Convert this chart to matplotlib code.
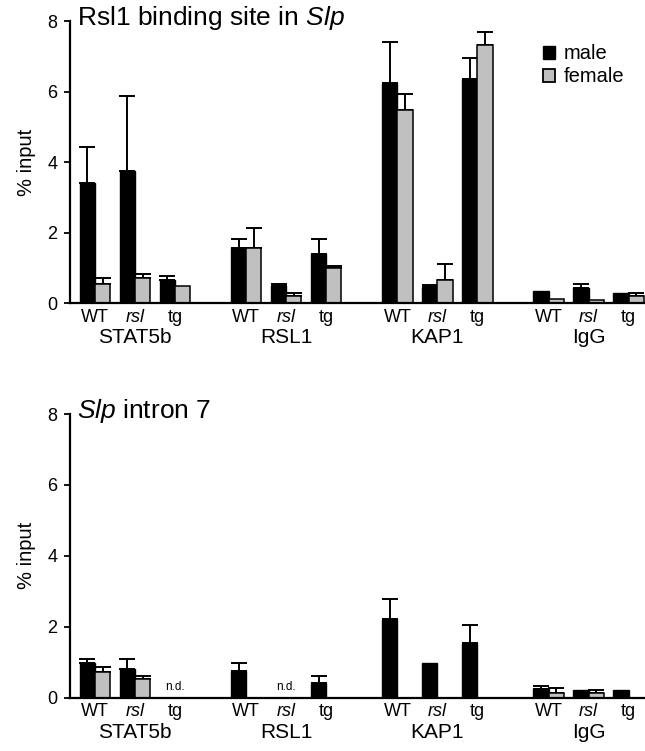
import matplotlib
matplotlib.use("Agg")
import matplotlib.pyplot as plt
from matplotlib.patches import Patch
import numpy as np

plt.rcParams['font.family'] = ['Liberation Sans', 'DejaVu Sans']
plt.rcParams['mathtext.fontset'] = 'custom'
plt.rcParams['mathtext.rm'] = 'Liberation Sans'
plt.rcParams['mathtext.it'] = 'Liberation Sans:italic'

groups = ["STAT5b", "RSL1", "KAP1", "IgG"]
genotypes = ["WT", "rsl", "tg"]

# Top panel: Rsl1 binding site in Slp
top_male = [3.41, 3.75, 0.65, 1.57, 0.49, 1.39, 6.23, 0.45, 6.35, 0.35, 0.43, 0.29]
top_male_err = [1.02, 2.12, 0.11, 0.24, 0.05, 0.42, 1.18, 0.06, 0.61, 0.0, 0.10, 0.0]
top_female = [0.54, 0.72, 0.48, 1.57, 0.20, 0.98, 5.48, 0.65, 7.32, 0.12, 0.10, 0.21]
top_female_err = [0.16, 0.10, 0.0, 0.55, 0.09, 0.07, 0.44, 0.45, 0.38, 0.0, 0.0, 0.08]

# Bottom panel: Slp intron 7 (None = not determined)
bot_male = [0.97, 0.80, None, 0.75, None, 0.41, 2.22, 0.99, 1.55, 0.24, 0.22, 0.21]
bot_male_err = [0.11, 0.28, 0.0, 0.22, 0.0, 0.20, 0.57, 0.0, 0.50, 0.10, 0.0, 0.0]
bot_female = [0.73, 0.52, None, 0.0, None, 0.0, 0.0, 0.0, 0.0, 0.12, 0.12, 0.0]
bot_female_err = [0.13, 0.09, 0.0, 0.0, 0.0, 0.0, 0.0, 0.0, 0.0, 0.16, 0.10, 0.0]

yticks = [0, 2, 4, 6, 8]

fig = plt.figure(figsize=(6.45, 7.51), dpi=100)
ax1 = fig.add_axes([0.1085, 0.5965, 0.8915, 0.3755])
ax2 = fig.add_axes([0.1085, 0.0710, 0.8915, 0.3777])

group_step = 3.78
w = 0.38
xs = np.array([g * group_step + i for g in range(len(groups)) for i in range(len(genotypes))])


def draw(ax, male, male_err, female, female_err, title):
    m = np.array([np.nan if v is None else v for v in male], dtype=float)
    f = np.array([np.nan if v is None else v for v in female], dtype=float)
    ax.bar(xs - w / 2, np.nan_to_num(m), w, color='black', edgecolor='black', linewidth=1.0, zorder=2)
    ax.bar(xs + w / 2, np.nan_to_num(f), w, color='#c0c0c0', edgecolor='black', linewidth=1.1, zorder=2)
    for x, v, e in zip(xs - w / 2, m, male_err):
        if not np.isnan(v) and e > 0:
            ax.errorbar(x, v, yerr=[[0], [e]], fmt='none', ecolor='black', elinewidth=1.4,
                        capsize=5.5, capthick=1.4, zorder=1)
    for x, v, e in zip(xs + w / 2, f, female_err):
        if not np.isnan(v) and e > 0:
            ax.errorbar(x, v, yerr=[[0], [e]], fmt='none', ecolor='black', elinewidth=1.4,
                        capsize=5.5, capthick=1.4, zorder=1)
    for x, v in zip(xs, m):
        if np.isnan(v):
            ax.text(x, 0.12, "n.d.", ha='center', va='bottom', fontsize=8.5)
    ax.set_xlim(-0.625, 13.75)
    ax.set_ylim(0, 8)
    ax.set_yticks(yticks)
    ax.set_yticklabels([str(t) for t in yticks], fontsize=13)
    ax.set_xticks(xs)
    ax.set_xticklabels(genotypes * len(groups), fontsize=13)
    for lab in ax.get_xticklabels():
        if lab.get_text() == "rsl":
            lab.set_fontstyle('italic')
    ax.tick_params(axis='x', length=0, pad=4)
    ax.tick_params(axis='y', length=4, width=1.3, direction='out', pad=5)
    for s in ['top', 'right']:
        ax.spines[s].set_visible(False)
    for s in ['left', 'bottom']:
        ax.spines[s].set_linewidth(1.6)
    ax.set_ylabel("% input", fontsize=14.5, labelpad=8)
    for g, name in enumerate(groups):
        ax.text(g * group_step + 1, -0.123, name, transform=ax.get_xaxis_transform(),
                ha='center', va='center', fontsize=15)
    ax.text(0.013, 1.01, title, transform=ax.transAxes, ha='left', va='center', fontsize=19)


draw(ax1, top_male, top_male_err, top_female, top_female_err, r"Rsl1 binding site in $\mathit{Slp}$")
draw(ax2, bot_male, bot_male_err, bot_female, bot_female_err, r"$\mathit{Slp}$ intron 7")

handles = [Patch(facecolor='black', edgecolor='black', linewidth=1.0),
           Patch(facecolor='#c0c0c0', edgecolor='black', linewidth=1.3)]
ax1.legend(handles, ["male", "female"], loc='upper right', bbox_to_anchor=(0.985, 0.96),
           frameon=False, fontsize=14.5, handlelength=0.6, handleheight=0.6,
           handletextpad=0.45, labelspacing=0.2, borderaxespad=0.2)

fig.savefig("out.png", dpi=100)
